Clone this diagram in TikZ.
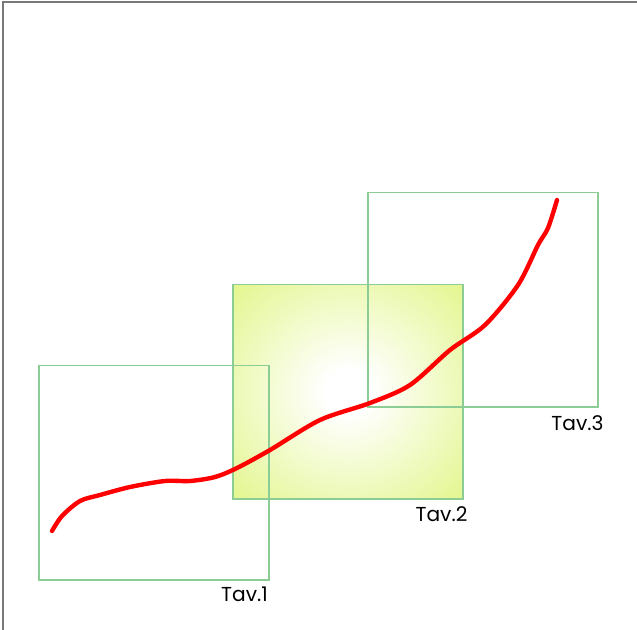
\documentclass[tikz,border=0pt]{standalone}
\usepackage{fontspec}
\setmainfont{Poppins}
\usetikzlibrary{positioning}

\definecolor{tavgreen}{RGB}{140,205,150}
\definecolor{tavlime}{RGB}{226,246,140}
\definecolor{tavlimedeep}{RGB}{214,240,118}
\definecolor{framegray}{RGB}{120,120,120}
\pgfdeclareradialshading{tavglow}{\pgfpoint{0bp}{0bp}}{%
  color(0bp)=(white); color(5bp)=(white); color(36bp)=(tavlime);
  color(50bp)=(tavlimedeep)}

\tikzset{
  tavbox/.style={draw=tavgreen, line width=0.6pt, minimum width=4.6cm,
    minimum height=4.3cm, inner sep=0pt},
  tavlabel/.style={font=\fontsize{11.5}{13}\selectfont, inner sep=0pt}
}

\begin{document}
\begin{tikzpicture}[x=0.02cm, y=-0.02cm]
    \useasboundingbox (0,0) rectangle (637,630);
    % frame
    \draw[framegray, line width=1.2pt] (3,630) -- (3,2) -- (637,2);
    % tavole
    \shade[shading=tavglow] (233,284) rectangle (463,499);
    \node[tavbox] (tav1) at (154,472.5) {};
    \node[tavbox] (tav2) at (348,391.5) {};
    \node[tavbox] (tav3) at (483,299.5) {};
    \node[tavlabel] (lab1) at ([shift={(-25,14)}]tav1.south east) {Tav.1};
    \node[tavlabel] (lab2) at ([shift={(-22,15)}]tav2.south east) {Tav.2};
    \node[tavlabel] (lab3) at ([shift={(-21,16)}]tav3.south east) {Tav.3};
    % tracciato
    \draw[red, line width=2.5pt, line cap=round] plot[smooth, tension=0.5] coordinates {
        (52,531) (62,516) (80,501) (100,495) (130,487) (165,481) (190,481)
        (215,477) (237,468) (270,450) (320,420) (370,403) (410,385)
        (450,350) (485,325) (518,285) (538,245) (548,228) (557,200)};
\end{tikzpicture}
\end{document}
